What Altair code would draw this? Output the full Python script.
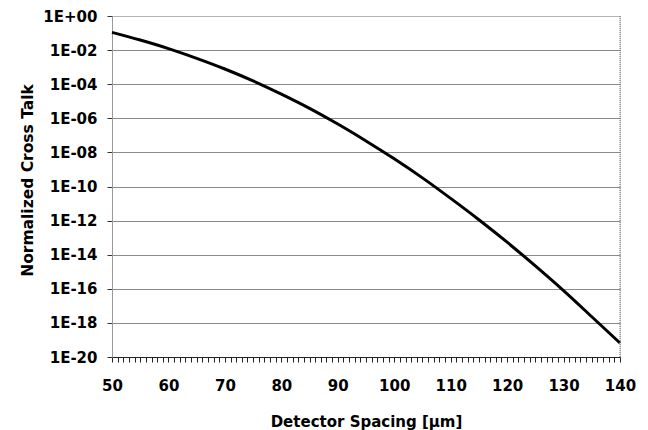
import altair as alt
import pandas as pd

# Detector spacing [µm]
spacing = [50, 55, 60, 65, 70, 75, 80, 85, 90, 95, 100, 105, 110, 115, 120, 125, 130, 135, 140]
# Normalized cross talk
crosstalk = [1.10e-1, 3.9e-2, 1.23e-2, 3.3e-3, 7.8e-4, 1.55e-4, 2.6e-5, 3.8e-6, 4.6e-7, 4.7e-8,
             4.2e-9, 3.2e-10, 2.0e-11, 1.12e-12, 5.4e-14, 2.2e-15, 7.8e-17, 2.3e-18, 6.6e-20]

y_ticks = [1e0, 1e-2, 1e-4, 1e-6, 1e-8, 1e-10, 1e-12, 1e-14, 1e-16, 1e-18, 1e-20]
x_ticks = list(range(50, 141))

df = pd.DataFrame({"x": spacing, "y": crosstalk})

FONT = "DejaVu Sans"

label_expr = ("'1E' + (round(log(datum.value)/LN10) >= 0 ? '+' : '-') + "
              "(abs(round(log(datum.value)/LN10)) < 10 ? '0' : '') + "
              "abs(round(log(datum.value)/LN10))")

x_scale = alt.Scale(domain=[50, 140], nice=False, zero=False)
y_scale = alt.Scale(type="log", domain=[1e-20, 1], nice=False)

line = alt.Chart(df).mark_line(color="black", strokeWidth=3, interpolate="monotone").encode(
    x=alt.X("x:Q", scale=x_scale,
            axis=alt.Axis(values=x_ticks, tickCount=200, title="Detector Spacing [µm]",
                          labelExpr="datum.value % 10 == 0 ? format(datum.value, 'd') : ''",
                          labelOverlap=False, labelFlush=False,
                          tickSize=5, tickColor="#222222", domainColor="#222222",
                          labelPadding=16, labelFont=FONT, labelFontSize=15,
                          labelFontWeight="bold", labelColor="black",
                          titleFont=FONT, titleFontSize=15, titleFontWeight="bold",
                          titleColor="black", titleBaseline="alphabetic", titleY=69,
                          grid=False)),
    y=alt.Y("y:Q", scale=y_scale,
            axis=alt.Axis(values=y_ticks, tickCount=50, title="Normalized Cross Talk",
                          labelExpr=label_expr, labelOverlap=False,
                          tickSize=5, tickColor="#333333",
                          domainColor="#999999", labelPadding=10,
                          labelFont=FONT, labelFontSize=15, labelFontWeight="bold",
                          labelColor="black", titleFont=FONT, titleFontSize=15.5,
                          titleFontWeight="bold", titleColor="black",
                          titleAngle=270, titleBaseline="alphabetic",
                          titleX=-80, titleY=164, titleAlign="center",
                          grid=True, gridColor="#8a8a8a", gridWidth=1,
                          gridDash=alt.condition("datum.value == 1", alt.value([1, 1]), alt.value([])))),
)

right_border = alt.Chart(pd.DataFrame({"x": [140]})).mark_rule(
    color="#666666", strokeDash=[1, 1], strokeWidth=1
).encode(x=alt.X("x:Q", scale=x_scale))

chart = alt.layer(line, right_border).properties(
    width=508, height=341,
    autosize=alt.AutoSizeParams(type="none"),
    padding={"left": 112, "top": 16, "right": 28, "bottom": 73},
).configure_view(stroke=None).configure(background="white")

chart.save("out.html", embed_options={"renderer": "svg", "actions": False})
